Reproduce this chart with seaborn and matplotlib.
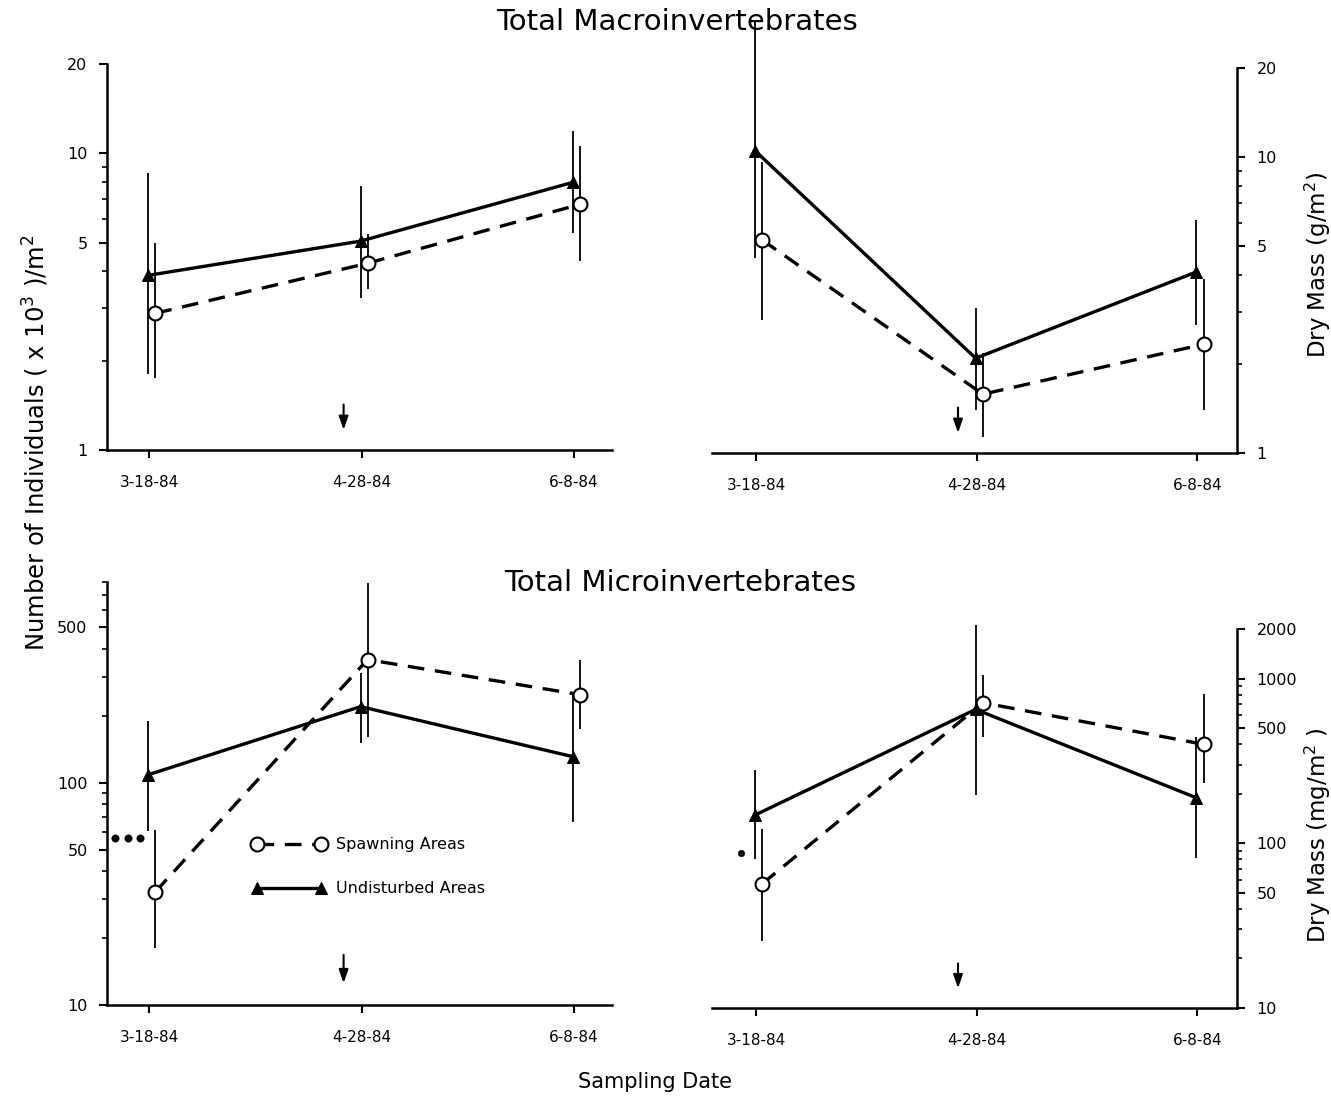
import numpy as np
import pandas as pd
import seaborn as sns
import matplotlib.pyplot as plt
from matplotlib.ticker import FixedLocator, FixedFormatter, LogLocator, NullFormatter

dates = ['3-18-84', '4-28-84', '6-8-84']

# Total macroinvertebrates - number (x10^3 / m^2)
macro_num_spawn = [2.89, 4.26, 6.73]
macro_num_spawn_lo = [1.75, 3.48, 4.33]
macro_num_spawn_hi = [4.98, 5.34, 10.6]
macro_num_undist = [3.88, 5.06, 7.98]
macro_num_undist_lo = [1.80, 3.25, 5.38]
macro_num_undist_hi = [8.57, 7.74, 11.9]

# Total macroinvertebrates - dry mass (g/m^2)
macro_mass_spawn = [5.24, 1.58, 2.33]
macro_mass_spawn_lo = [2.81, 1.13, 1.40]
macro_mass_spawn_hi = [9.6, 2.18, 3.87]
macro_mass_undist = [10.5, 2.09, 4.09]
macro_mass_undist_lo = [4.56, 1.40, 2.71]
macro_mass_undist_hi = [29.0, 3.09, 6.12]

# Total microinvertebrates - number (x10^3 / m^2)
micro_num_spawn = [32.3, 358, 249]
micro_num_spawn_lo = [18.1, 160, 175]
micro_num_spawn_hi = [61.4, 795, 355]
micro_num_undist = [108.7, 220, 131]
micro_num_undist_lo = [60.8, 151, 66.7]
micro_num_undist_hi = [190, 313, 249]
micro_num_pre = 56.5

# Total microinvertebrates - dry mass (mg/m^2)
micro_mass_spawn = [56.9, 713, 399]
micro_mass_spawn_lo = [25.4, 440, 232]
micro_mass_spawn_hi = [122, 1050, 809]
micro_mass_undist = [148.5, 650, 189]
micro_mass_undist_lo = [80, 197, 82]
micro_mass_undist_hi = [277, 2115, 441]
micro_mass_pre = 87

macro_yticks = [1, 5, 10, 20]
micro_num_yticks = [10, 50, 100, 500]
micro_mass_yticks = [10, 50, 100, 500, 1000, 2000]

sns.set_style('ticks')
plt.rcParams['font.family'] = ['DejaVu Sans']
plt.rcParams['axes.linewidth'] = 1.8
plt.rcParams['text.color'] = 'black'
plt.rcParams['xtick.color'] = 'black'
plt.rcParams['ytick.color'] = 'black'
plt.rcParams['axes.edgecolor'] = 'black'

fig = plt.figure(figsize=(13.31, 11), dpi=100)


def panel(rect, spawn, s_lo, s_hi, und, u_lo, u_hi, ylim, yticks, right=False, legend=False):
    ax = fig.add_axes(rect)
    x = np.arange(len(dates))
    xs = x + 0.028
    xu = x - 0.005
    ax.vlines(xs, s_lo, s_hi, color='black', lw=1.3, clip_on=False)
    ax.vlines(xu, u_lo, u_hi, color='black', lw=1.3, clip_on=False)
    sns.lineplot(x=xs, y=spawn, ax=ax, color='black', lw=2.4, linestyle=(0, (5, 3.2)),
                 marker='o', markersize=10, markerfacecolor='white', markeredgecolor='black',
                 markeredgewidth=1.5, label='Spawning Areas', clip_on=False)
    sns.lineplot(x=xu, y=und, ax=ax, color='black', lw=2.4, linestyle='-',
                 marker='^', markersize=8, markerfacecolor='black', markeredgecolor='black',
                 label='Undisturbed Areas', clip_on=False)
    ax.set_yscale('log')
    ax.set_ylim(*ylim)
    ax.yaxis.set_major_locator(FixedLocator(yticks))
    ax.yaxis.set_major_formatter(FixedFormatter([str(t) for t in yticks]))
    ax.yaxis.set_minor_locator(LogLocator(base=10, subs=np.arange(2, 10)))
    ax.yaxis.set_minor_formatter(NullFormatter())
    ax.set_xticks(x)
    ax.set_xticklabels(dates)
    ax.set_xlim(-0.2, 2.18)
    ax.tick_params(axis='x', length=6, width=1.5, pad=12, labelsize=11)
    ax.tick_params(axis='y', which='major', length=6, width=1.5, labelsize=11.5, pad=8)
    ax.tick_params(axis='y', which='minor', length=3.5, width=1.2)
    ax.spines['top'].set_visible(False)
    if right:
        ax.yaxis.tick_right()
        ax.spines['left'].set_visible(False)
        ax.spines['right'].set_visible(True)
    else:
        ax.spines['right'].set_visible(False)
    ax.set_xlabel('')
    ax.set_ylabel('')
    # arrow marking the spawning date
    ax.annotate('', xy=(0.915, 0.045), xytext=(0.915, 0.125),
                xycoords=('data', 'axes fraction'), textcoords=('data', 'axes fraction'),
                arrowprops=dict(arrowstyle='-|>,head_length=0.8,head_width=0.28',
                                color='black', lw=1.5))
    if legend:
        ax.legend(numpoints=2, frameon=False, loc='upper left', bbox_to_anchor=(0.26, 0.43),
                  handlelength=4.6, labelspacing=1.8, fontsize=11.5, handletextpad=0.6)
    else:
        ax.get_legend().remove()
    return ax


ax1 = panel([0.0804, 0.5909, 0.3794, 0.3509], macro_num_spawn, macro_num_spawn_lo, macro_num_spawn_hi,
            macro_num_undist, macro_num_undist_lo, macro_num_undist_hi, (1, 20), macro_yticks)
ax2 = panel([0.535, 0.5882, 0.3944, 0.35], macro_mass_spawn, macro_mass_spawn_lo, macro_mass_spawn_hi,
            macro_mass_undist, macro_mass_undist_lo, macro_mass_undist_hi, (1, 20), macro_yticks, right=True)
ax3 = panel([0.0804, 0.0864, 0.3794, 0.3845], micro_num_spawn, micro_num_spawn_lo, micro_num_spawn_hi,
            micro_num_undist, micro_num_undist_lo, micro_num_undist_hi, (10, 800), micro_num_yticks,
            legend=True)
ax4 = panel([0.535, 0.0836, 0.3944, 0.3446], micro_mass_spawn, micro_mass_spawn_lo, micro_mass_spawn_hi,
            micro_mass_undist, micro_mass_undist_lo, micro_mass_undist_hi, (10, 2000), micro_mass_yticks,
            right=True)

# pre-sampling reference points
sns.scatterplot(x=[-0.16, -0.10, -0.045], y=[micro_num_pre] * 3, ax=ax3, color='black', s=28,
                edgecolor='black', clip_on=False, legend=False)
sns.scatterplot(x=[-0.07], y=[micro_mass_pre], ax=ax4, color='black', s=22,
                edgecolor='black', clip_on=False, legend=False)

fig.text(0.509, 0.98, 'Total Macroinvertebrates', ha='center', va='center', fontsize=21)
fig.text(0.511, 0.47, 'Total Microinvertebrates', ha='center', va='center', fontsize=21)
fig.text(0.027, 0.598, 'Number of Individuals ( x 10$^{3}$ )/m$^{2}$', rotation=90,
         ha='center', va='center', fontsize=17.5)
fig.text(0.99, 0.759, 'Dry Mass (g/m$^{2}$)', rotation=90, ha='center', va='center', fontsize=16.5)
fig.text(0.99, 0.241, 'Dry Mass (mg/m$^{2}$ )', rotation=90, ha='center', va='center', fontsize=16.5)
fig.text(0.492, 0.0164, 'Sampling Date', ha='center', va='center', fontsize=15)

fig.savefig('out.png', dpi=100)
